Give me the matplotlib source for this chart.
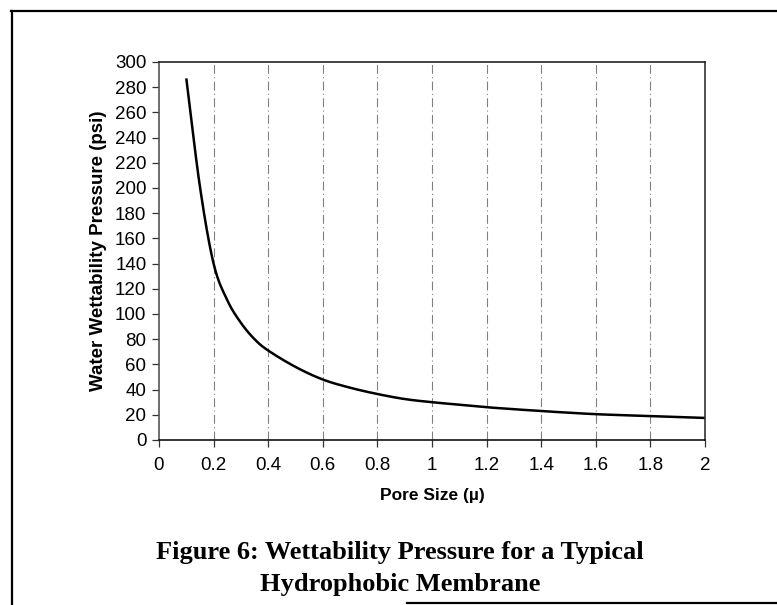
import numpy as np
import matplotlib
matplotlib.use("Agg")
import matplotlib.pyplot as plt
from matplotlib.lines import Line2D

# Data
pore_size = [0.1, 0.15, 0.2, 0.25, 0.3, 0.35, 0.4, 0.5, 0.6, 0.7, 0.8, 0.9, 1.0, 1.1, 1.2, 1.4, 1.6, 1.8, 2.0]
pressure = [287, 201, 140, 111, 93, 80, 71, 58, 48, 41.5, 36.5, 32.5, 30, 28, 26, 23, 20.5, 19, 17.5]
x_ticks = [0, 0.2, 0.4, 0.6, 0.8, 1.0, 1.2, 1.4, 1.6, 1.8, 2.0]
x_tick_labels = ["0", "0.2", "0.4", "0.6", "0.8", "1", "1.2", "1.4", "1.6", "1.8", "2"]
y_ticks = list(range(0, 301, 20))
title_lines = ["Figure 6: Wettability Pressure for a Typical", "Hydrophobic Membrane"]


def catmull_rom(xs, ys, n=30):
    xs = np.asarray(xs, float)
    ys = np.asarray(ys, float)
    px = np.concatenate([[2 * xs[0] - xs[1]], xs, [2 * xs[-1] - xs[-2]]])
    py = np.concatenate([[2 * ys[0] - ys[1]], ys, [2 * ys[-1] - ys[-2]]])
    ox, oy = [], []
    for i in range(1, len(px) - 2):
        t = np.linspace(0, 1, n, endpoint=False)
        for arr, out in ((px, ox), (py, oy)):
            p0, p1, p2, p3 = arr[i - 1], arr[i], arr[i + 1], arr[i + 2]
            out.extend(0.5 * ((2 * p1) + (-p0 + p2) * t +
                              (2 * p0 - 5 * p1 + 4 * p2 - p3) * t ** 2 +
                              (-p0 + 3 * p1 - 3 * p2 + p3) * t ** 3))
    ox.append(xs[-1])
    oy.append(ys[-1])
    return np.array(ox), np.array(oy)


W, H = 777, 605
fig = plt.figure(figsize=(W / 100, H / 100), dpi=100)
ax = fig.add_axes([159 / W, (H - 440) / H, 546 / W, 378 / H])

sx, sy = catmull_rom(pore_size, pressure)
ax.plot(sx, sy, color="black", lw=1.8, solid_capstyle="butt")

ax.set_xlim(0, 2)
ax.set_ylim(0, 300)
ax.set_xticks(x_ticks)
ax.set_xticklabels(x_tick_labels)
ax.set_yticks(y_ticks)
for xv in x_ticks[1:-1]:
    ax.axvline(xv, color="#808080", lw=0.8, linestyle=(0, (8, 3, 1, 3)), zorder=0)

ax.tick_params(axis="both", direction="out", length=5, width=0.9, color="#333333",
               labelsize=13.5, pad=4)
ax.tick_params(axis="x", pad=7)
for lab in ax.get_xticklabels() + ax.get_yticklabels():
    lab.set_family("Liberation Sans")

for s, c in (("top", "#222222"), ("bottom", "#111111"), ("right", "#333333"), ("left", "#555555")):
    ax.spines[s].set_color(c)
    ax.spines[s].set_linewidth(1.2)

ax.set_ylabel("Water Wettability Pressure (psi)", family="Liberation Sans",
              fontweight="bold", fontsize=13.5, labelpad=6)
ax.set_xlabel("Pore Size (\u00b5)", family="Liberation Sans", fontweight="bold",
              fontsize=12.5, labelpad=10)

fig.text(400 / W, 1 - 559 / H, title_lines[0], ha="center", va="baseline",
         family="Liberation Serif", fontweight="bold", fontsize=19)
fig.text(400 / W, 1 - 591 / H, title_lines[1], ha="center", va="baseline",
         family="Liberation Serif", fontweight="bold", fontsize=19)

# outer frame
fig.add_artist(Line2D([11 / W, 1.0], [1 - 11 / H, 1 - 11 / H], color="black", lw=1.6,
                      transform=fig.transFigure))
fig.add_artist(Line2D([12 / W, 12 / W], [1 - 11 / H, 0], color="black", lw=1.6,
                      transform=fig.transFigure))
fig.add_artist(Line2D([407 / W, 1.0], [1 - 603 / H, 1 - 603 / H], color="black", lw=1.6,
                      transform=fig.transFigure))

fig.savefig("out.png", dpi=100)
